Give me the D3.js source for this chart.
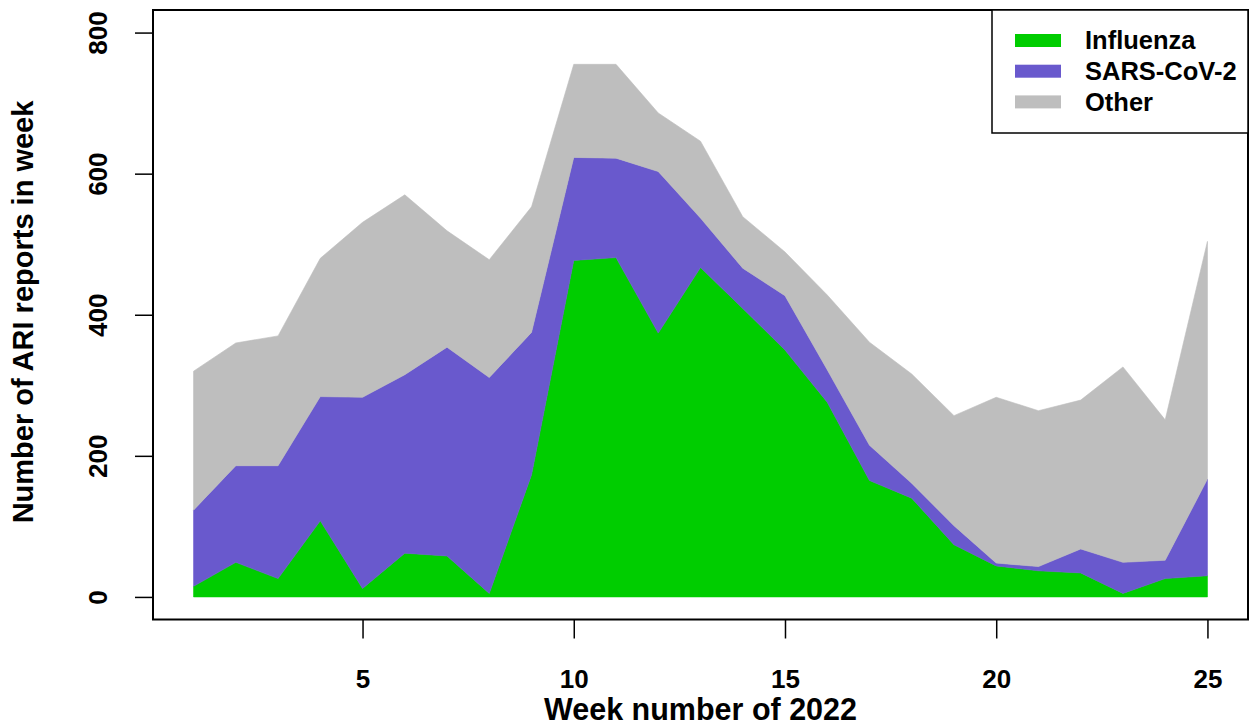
<!DOCTYPE html>
<html>
<head>
<meta charset="utf-8">
<script src="https://cdn.jsdelivr.net/npm/d3@7"></script>
<style>
  html, body { margin: 0; padding: 0; background: #ffffff; }
  svg { display: block; }
  text { font-family: "Liberation Sans", Arial, Helvetica, sans-serif; font-weight: bold; fill: #000; }
</style>
</head>
<body>
<svg id="chart" width="1254" height="727"></svg>
<script>
// ---- data ----
const weeks = [1,2,3,4,5,6,7,8,9,10,11,12,13,14,15,16,17,18,19,20,21,22,23,24,25];
const influenza = [15,49,26,108,12,62,58,5,173,477,481,374,467,409,350,276,165,140,74,44,37,34,5,26,30];
const sarsCoV2  = [108,137,160,176,271,253,296,306,202,146,141,229,70,57,77,46,50,21,27,4,6,34,44,26,137];
const other     = [197,174,184,196,248,255,165,167,178,132,133,83,109,73,62,106,146,155,156,235,221,211,277,199,337];
const seriesNames = ["Influenza", "SARS-CoV-2", "Other"];
const seriesColors = ["#00CD00", "#6959CD", "#BEBEBE"];
const xTicks = [5, 10, 15, 20, 25];
const yTicks = [0, 200, 400, 600, 800];
const xLabel = "Week number of 2022";
const yLabel = "Number of ARI reports in week";

(function () {
  const keys = ["flu", "sars", "other"];
  const table = weeks.map((w, i) => ({ week: w, flu: influenza[i], sars: sarsCoV2[i], other: other[i] }));
  const stacked = d3.stack().keys(keys)(table);

  const svg = d3.select("#chart");
  const pLeft = 153, pRight = 1248, pTop = 10, pBottom = 619.5;

  // R-style 4% extension: x [1,25] -> [0.04,25.96], y ylim [0,800] -> [-32,832]
  const x = d3.scaleLinear().domain([0.04, 25.96]).range([pLeft, pRight]);
  const y = d3.scaleLinear().domain([-32, 832]).range([pBottom, pTop]);

  const area = d3.area()
    .x(d => x(d.data.week))
    .y0(d => y(d[0]))
    .y1(d => y(d[1]));

  svg.append("g").selectAll("path")
    .data(stacked)
    .join("path")
    .attr("d", area)
    .attr("fill", (d, i) => seriesColors[i])
    .attr("stroke", (d, i) => seriesColors[i])
    .attr("stroke-width", 0.6);

  // plot box
  svg.append("rect")
    .attr("x", pLeft).attr("y", pTop)
    .attr("width", pRight - pLeft).attr("height", pBottom - pTop)
    .attr("fill", "none").attr("stroke", "#000").attr("stroke-width", 2);

  // x axis
  const gx = svg.append("g")
    .attr("transform", `translate(0,${pBottom})`)
    .call(d3.axisBottom(x).tickValues(xTicks).tickSize(19).tickFormat(d3.format("d")));
  gx.select(".domain").remove();
  gx.selectAll(".tick line").attr("stroke", "#000").attr("stroke-width", 1.5);
  gx.selectAll(".tick text")
    .attr("y", 68.5).attr("dy", null)
    .style("font-size", "26px").style("font-family", "'Liberation Sans', Arial, sans-serif").style("font-weight", "bold")
    .attr("fill", "#000");

  // y axis
  const gy = svg.append("g")
    .attr("transform", `translate(${pLeft},0)`)
    .call(d3.axisLeft(y).tickValues(yTicks).tickSize(18).tickFormat(d3.format("d")));
  gy.select(".domain").remove();
  gy.selectAll(".tick line").attr("stroke", "#000").attr("stroke-width", 1.5);
  gy.selectAll(".tick text")
    .attr("x", null).attr("dy", null)
    .attr("text-anchor", "middle")
    .attr("transform", "translate(-46,0) rotate(-90)")
    .style("font-size", "26px").style("font-family", "'Liberation Sans', Arial, sans-serif").style("font-weight", "bold")
    .attr("fill", "#000");

  // axis titles
  svg.append("text")
    .attr("x", (pLeft + pRight) / 2).attr("y", 719.5)
    .attr("text-anchor", "middle")
    .style("font-size", "30.5px")
    .text(xLabel);

  svg.append("text")
    .attr("transform", `translate(33,312) rotate(-90)`)
    .attr("text-anchor", "middle")
    .style("font-size", "29px")
    .text(yLabel);

  // legend
  const lg = svg.append("g");
  lg.append("rect")
    .attr("x", 992).attr("y", pTop)
    .attr("width", pRight - 992).attr("height", 123)
    .attr("fill", "#fff").attr("stroke", "#000").attr("stroke-width", 1.5);
  const rowY = [40.5, 71.2, 101.9];
  seriesNames.forEach((name, i) => {
    lg.append("rect")
      .attr("x", 1015).attr("y", rowY[i] - 6.5)
      .attr("width", 46).attr("height", 13)
      .attr("fill", seriesColors[i]);
    lg.append("text")
      .attr("x", 1085).attr("y", rowY[i]).attr("dy", "0.35em")
      .style("font-size", "25.5px")
      .text(name);
  });
})();
</script>
</body>
</html>
